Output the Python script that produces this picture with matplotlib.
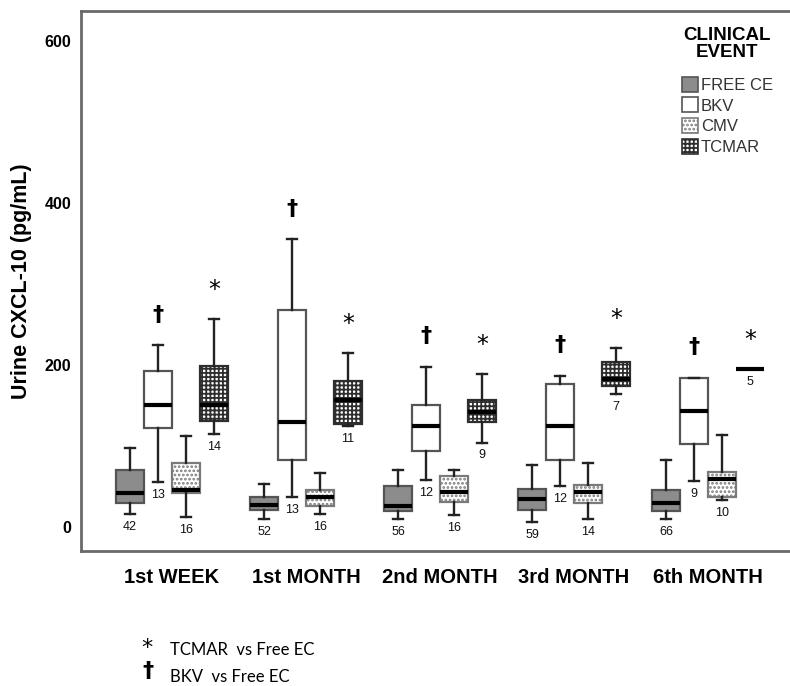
import matplotlib
matplotlib.use("Agg")
import matplotlib.pyplot as plt
from matplotlib.patches import Patch

plt.rcParams["hatch.linewidth"] = 1.3

# ---------------- data ----------------
groups = ["1st WEEK", "1st MONTH", "2nd MONTH", "3rd MONTH", "6th MONTH"]
series = ["FREE CE", "BKV", "CMV", "TCMAR"]

free_lo  = [16, 10, 10, 6, 10]
free_q1  = [29.5, 21, 19, 21, 19]
free_med = [42, 27, 25, 34.6, 29.6]
free_q3  = [69.5, 37, 50, 47, 45.7]
free_hi  = [97.5, 53, 69.5, 76.5, 82.7]
free_n   = [42, 52, 56, 59, 66]

bkv_lo  = [55.5, 37, 58, 50, 57]
bkv_q1  = [122, 83, 93, 83, 102]
bkv_med = [150.6, 129, 125, 125, 143]
bkv_q3  = [192.6, 268, 150.6, 176, 184]
bkv_hi  = [224, 355, 197, 186, 184]
bkv_n   = [13, 13, 12, 12, 9]

cmv_lo  = [12, 16, 15, 10, 33]
cmv_q1  = [42, 26, 31, 29.6, 37]
cmv_med = [45.7, 37, 43, 43, 59]
cmv_q3  = [79, 45.7, 63, 52, 67]
cmv_hi  = [112, 66.7, 70, 79, 113]
cmv_n   = [16, 16, 16, 14, 10]

tcm_lo  = [114, 124, 104, 164, 195]
tcm_q1  = [130, 127, 129, 174, 195]
tcm_med = [150.6, 157, 142, 183, 195]
tcm_q3  = [198, 180, 156, 203, 195]
tcm_hi  = [257, 214, 189, 221, 195]
tcm_n   = [14, 11, 9, 7, 5]

yticks = [0, 200, 400, 600]

# ---------------- figure ----------------
fig = plt.figure(figsize=(7.9, 6.86), dpi=100)
ax = fig.add_axes([0.1025, 0.1968, 0.8975, 0.787])

box_w = 0.209
offsets = [-1.5 * box_w, -0.5 * box_w, 0.5 * box_w, 1.5 * box_w]
edge = "#555555"
styles = [
    dict(face="#8c8c8c", hatch=None, hcol=edge),
    dict(face="white", hatch=None, hcol=edge),
    dict(face="white", hatch="....", hcol="#7a7a7a"),
    dict(face="white", hatch="++++", hcol="#2e2e2e"),
]
all_stats = [
    (free_lo, free_q1, free_med, free_q3, free_hi, free_n),
    (bkv_lo, bkv_q1, bkv_med, bkv_q3, bkv_hi, bkv_n),
    (cmv_lo, cmv_q1, cmv_med, cmv_q3, cmv_hi, cmv_n),
    (tcm_lo, tcm_q1, tcm_med, tcm_q3, tcm_hi, tcm_n),
]

centers = list(range(1, len(groups) + 1))
for si, (lo, q1, med, q3, hi, nn) in enumerate(all_stats):
    st = styles[si]
    stats = []
    for gi in range(len(groups)):
        stats.append(dict(whislo=lo[gi], q1=q1[gi], med=med[gi], q3=q3[gi],
                          whishi=hi[gi], fliers=[]))
    pos = [c + offsets[si] for c in centers]
    bp = ax.bxp(stats, positions=pos, widths=box_w, patch_artist=True,
                showfliers=False, capwidths=0.075,
                boxprops=dict(facecolor=st["face"], edgecolor=st["hcol"], linewidth=1.6),
                medianprops=dict(color="black", linewidth=3),
                whiskerprops=dict(color="#222222", linewidth=1.7),
                capprops=dict(color="#222222", linewidth=1.7))
    for b in bp["boxes"]:
        if st["hatch"]:
            b.set_hatch(st["hatch"])
        b.set_zorder(2)
    for gi in range(len(groups)):
        if lo[gi] == hi[gi]:
            # degenerate box: only the median line
            bp["boxes"][gi].set_visible(False)
            bp["caps"][2 * gi].set_visible(False)
            bp["caps"][2 * gi + 1].set_visible(False)
        ax.text(pos[gi], lo[gi] - 16, str(nn[gi]), ha="center", va="center",
                fontsize=9, family="Liberation Sans", color="#111111")
    # significance markers
    if si == 1:
        for gi in range(len(groups)):
            ax.text(pos[gi], hi[gi] + 38, "\u2020", ha="center", va="center",
                    fontsize=16, fontweight="bold", family="DejaVu Sans")
    if si == 3:
        for gi in range(len(groups)):
            ax.text(pos[gi], hi[gi] + 36, "*", ha="center", va="center",
                    fontsize=17, family="DejaVu Sans")

ax.set_xlim(0.321, 5.612)
ax.set_ylim(-30, 637)
ax.set_xticks(centers)
ax.set_xticklabels(groups, fontsize=14.5, fontweight="bold", family="Liberation Sans")
ax.set_yticks(yticks)
ax.set_yticklabels([str(v) for v in yticks], fontsize=11.5, fontweight="bold",
                   family="Liberation Sans")
ax.tick_params(axis="both", length=0)
ax.tick_params(axis="x", pad=12)
ax.tick_params(axis="y", pad=7)
ax.set_ylabel("Urine CXCL-10 (pg/mL)", fontsize=15.5, fontweight="bold",
              family="Liberation Sans", labelpad=9)

for s in ["top", "left", "bottom"]:
    ax.spines[s].set_color("#6a6a6a")
    ax.spines[s].set_linewidth(2)
ax.spines["right"].set_visible(False)

# legend
handles = []
for si, name in enumerate(series):
    st = styles[si]
    handles.append(Patch(facecolor=st["face"], edgecolor=st["hcol"],
                         hatch=st["hatch"], linewidth=1.2, label=name))
leg = fig.legend(handles=handles, title="CLINICAL\nEVENT", loc="upper left",
                 bbox_to_anchor=(0.863, 0.96), frameon=False,
                 prop=dict(family="Liberation Sans", size=12),
                 handlelength=1.0, handleheight=1.0, handletextpad=0.15,
                 labelspacing=0.27, borderpad=0, borderaxespad=0,
                 alignment="center")
title = leg.get_title()
title.set_fontweight("bold")
title.set_fontsize(13.5)
title.set_family("Liberation Sans")
title.set_multialignment("center")
title.set_linespacing(1.0)
leg._legend_box.sep = 11
for t in leg.get_texts():
    t.set_color("#333333")

# footnotes
fig.text(147 / 790, 1 - 648 / 686, "*", fontsize=16, ha="center", va="center",
         family="DejaVu Sans")
fig.text(170 / 790, 1 - 650 / 686, "TCMAR  vs Free EC", fontsize=12,
         ha="left", va="center", family="Lato")
fig.text(148 / 790, 1 - 671 / 686, "\u2020", fontsize=16, fontweight="bold",
         ha="center", va="center", family="DejaVu Sans")
fig.text(170 / 790, 1 - 677 / 686, "BKV  vs Free EC", fontsize=12,
         ha="left", va="center", family="Lato")

fig.savefig("out.png", dpi=100)
